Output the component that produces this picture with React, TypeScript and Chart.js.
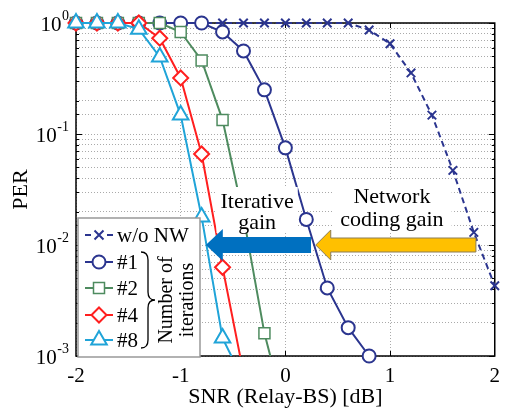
import { useEffect, useRef } from 'react';
import { Chart, registerables } from 'chart.js';
Chart.register(...registerables);

// ---------- data ----------
const snrDb = [-2, -1.8, -1.6, -1.4, -1.2, -1.0, -0.8, -0.6, -0.4, -0.2, 0, 0.2, 0.4, 0.6, 0.8, 1.0, 1.2, 1.4, 1.6, 1.8, 2.0];
const perWithoutNW = [1, 1, 1, 1, 1, 1, 1, 1, 1, 1, 1, 1, 1, 1, 0.865, 0.65, 0.355, 0.148, 0.047, 0.013, 0.0043];
const perIter1 = [1, 1, 1, 1, 1, 1, 1, 0.83, 0.56, 0.25, 0.075, 0.017, 0.0041, 0.0018, 0.001, null, null, null, null, null, null];
const perIter2 = [1, 1, 1, 1, 1, 0.83, 0.46, 0.134, 0.018, 0.0016, 0.0003, null, null, null, null, null, null, null, null, null, null];
const perIter4 = [1, 1, 1, 1, 0.73, 0.32, 0.066, 0.0063, 0.0007, null, null, null, null, null, null, null, null, null, null, null, null];
const perIter8 = [1, 1, 1, 0.88, 0.494, 0.148, 0.0179, 0.00145, 0.0006, null, null, null, null, null, null, null, null, null, null, null, null];
const seriesLabels = ['w/o NW', '#1', '#2', '#4', '#8'];
const yDecades = [0, -1, -2, -3];
const xTickValues = [-1, 0, 1];
const xTitle = 'SNR (Relay-BS) [dB]';
const yTitle = 'PER';
const iterGainText = ['Iterative', 'gain'];
const ncGainText = ['Network', 'coding gain'];
const braceText = ['Number of', 'iterations'];

// ---------- styles ----------
const FONT = '"Liberation Serif", "Times New Roman", serif';
const NAVY = '#2B358F';
const GREEN = '#4E8B5F';
const RED = '#FF1F1F';
const CYAN = '#20A4D8';
const BLUE_ARROW = '#0070C0';
const ORANGE = '#FFC000';

const toPoints = (vals: (number | null)[]) =>
  snrDb.map((x, i) => ({ x, y: vals[i] })).filter((p) => p.y !== null) as { x: number; y: number }[];

function drawMarker(ctx: CanvasRenderingContext2D, style: string, x: number, y: number, color: string) {
  ctx.save();
  ctx.strokeStyle = color;
  ctx.fillStyle = '#fff';
  ctx.lineWidth = 2;
  ctx.setLineDash([]);
  ctx.beginPath();
  if (style === 'cross') {
    const r = 4.5;
    ctx.moveTo(x - r, y - r); ctx.lineTo(x + r, y + r);
    ctx.moveTo(x + r, y - r); ctx.lineTo(x - r, y + r);
    ctx.stroke();
  } else if (style === 'circle') {
    ctx.arc(x, y, 6.5, 0, Math.PI * 2);
    ctx.fill(); ctx.stroke();
  } else if (style === 'rect') {
    ctx.lineWidth = 1.5;
    ctx.rect(x - 5.5, y - 5.5, 11, 11);
    ctx.fill(); ctx.stroke();
  } else if (style === 'diamond') {
    const r = 7.5;
    ctx.moveTo(x, y - r); ctx.lineTo(x + r, y); ctx.lineTo(x, y + r); ctx.lineTo(x - r, y); ctx.closePath();
    ctx.fill(); ctx.stroke();
  } else if (style === 'triangle') {
    const r = 9;
    ctx.moveTo(x, y - r); ctx.lineTo(x + 0.866 * r, y + 0.5 * r); ctx.lineTo(x - 0.866 * r, y + 0.5 * r); ctx.closePath();
    ctx.fill(); ctx.stroke();
  }
  ctx.restore();
}

function drawArrow(ctx: CanvasRenderingContext2D, tipX: number, tailX: number, y: number, headLen: number, headHalf: number, barHalf: number, fill: string, stroke?: string) {
  ctx.save();
  ctx.beginPath();
  ctx.moveTo(tipX, y);
  ctx.lineTo(tipX + headLen, y - headHalf);
  ctx.lineTo(tipX + headLen, y - barHalf);
  ctx.lineTo(tailX, y - barHalf);
  ctx.lineTo(tailX, y + barHalf);
  ctx.lineTo(tipX + headLen, y + barHalf);
  ctx.lineTo(tipX + headLen, y + headHalf);
  ctx.closePath();
  ctx.fillStyle = fill;
  ctx.fill();
  if (stroke) {
    ctx.strokeStyle = stroke;
    ctx.lineWidth = 1;
    ctx.stroke();
  }
  ctx.restore();
}

const customPlugin = {
  id: 'perCustom',
  beforeDatasetsDraw(chart: any) {
    const { ctx, chartArea: a, scales } = chart;
    const xs = scales.x, ys = scales.y;
    ctx.save();
    ctx.strokeStyle = '#000';
    ctx.lineWidth = 1.5;
    ctx.setLineDash([]);
    ctx.strokeRect(a.left, a.top, a.right - a.left, a.bottom - a.top);
    ctx.lineWidth = 1;
    ctx.beginPath();
    xTickValues.forEach((v) => {
      const px = Math.round(xs.getPixelForValue(v)) + 0.5;
      ctx.moveTo(px, a.bottom); ctx.lineTo(px, a.bottom - 5);
      ctx.moveTo(px, a.top); ctx.lineTo(px, a.top + 5);
    });
    ys.ticks.forEach((t: any) => {
      const v = t.value;
      const lg = Math.log10(v);
      const major = Math.abs(lg - Math.round(lg)) < 1e-6;
      const len = major ? 6 : 3;
      const py = Math.round(ys.getPixelForValue(v)) + 0.5;
      ctx.moveTo(a.left, py); ctx.lineTo(a.left + len, py);
      ctx.moveTo(a.right, py); ctx.lineTo(a.right - len, py);
    });
    ctx.stroke();
    ctx.restore();
  },
  afterDatasetsDraw(chart: any) {
    const { ctx, scales } = chart;
    const xs = scales.x, ys = scales.y;
    const y0 = ys.getPixelForValue(0.01);
    ctx.save();
    ctx.setLineDash([]);

    // text boxes
    ctx.font = `22px ${FONT}`;
    ctx.textAlign = 'center';
    ctx.textBaseline = 'middle';
    const cx1 = xs.getPixelForValue(-0.27);
    const w1 = Math.max(...iterGainText.map((s) => ctx.measureText(s).width));
    ctx.fillStyle = '#fff';
    ctx.fillRect(cx1 - w1 / 2 - 4, y0 - 58, w1 + 8, 46);
    ctx.fillStyle = '#000';
    ctx.fillText(iterGainText[0], cx1, y0 - 43);
    ctx.fillText(iterGainText[1], cx1, y0 - 22);

    const cx2 = xs.getPixelForValue(1.018);
    const w2 = Math.max(...ncGainText.map((s) => ctx.measureText(s).width));
    ctx.fillStyle = '#fff';
    ctx.fillRect(cx2 - w2 / 2 - 8, y0 - 65, w2 + 16, 52);
    ctx.fillStyle = '#000';
    ctx.fillText(ncGainText[0], cx2, y0 - 48);
    ctx.fillText(ncGainText[1], cx2, y0 - 25);

    // arrows
    drawArrow(ctx, xs.getPixelForValue(-0.76), xs.getPixelForValue(0.245), y0, 17, 16, 8, BLUE_ARROW);
    drawArrow(ctx, xs.getPixelForValue(0.29), xs.getPixelForValue(1.82), y0, 15, 15, 7, ORANGE, '#8B7D55');

    // legend box
    const lx = 78, ly = 218, lw = 122, lh = 139;
    ctx.fillStyle = '#fff';
    ctx.fillRect(lx, ly, lw, lh);
    ctx.strokeStyle = '#999';
    ctx.lineWidth = 1.5;
    ctx.strokeRect(lx, ly, lw, lh);

    const rows = [235, 262, 288, 315, 340];
    const colors = [NAVY, NAVY, GREEN, RED, CYAN];
    const markers = ['cross', 'circle', 'rect', 'diamond', 'triangle'];
    rows.forEach((ry, i) => {
      ctx.save();
      ctx.strokeStyle = colors[i];
      ctx.lineWidth = 2;
      ctx.beginPath();
      if (i === 0) {
        ctx.moveTo(85, ry); ctx.lineTo(91, ry);
        ctx.moveTo(107, ry); ctx.lineTo(113, ry);
      } else {
        ctx.moveTo(85, ry); ctx.lineTo(113, ry);
      }
      ctx.stroke();
      ctx.restore();
      drawMarker(ctx, markers[i], 99, ry, colors[i]);
      ctx.fillStyle = '#000';
      ctx.font = `21px ${FONT}`;
      ctx.textAlign = 'left';
      ctx.textBaseline = 'middle';
      ctx.fillText(seriesLabels[i], 117, ry + 1);
    });

    // brace
    ctx.strokeStyle = '#000';
    ctx.lineWidth = 1.3;
    ctx.beginPath();
    ctx.moveTo(141, 252);
    ctx.quadraticCurveTo(148, 252, 148, 260);
    ctx.lineTo(148, 292);
    ctx.quadraticCurveTo(148, 300, 155, 300);
    ctx.quadraticCurveTo(148, 300, 148, 308);
    ctx.lineTo(148, 340);
    ctx.quadraticCurveTo(148, 348, 141, 348);
    ctx.stroke();

    ctx.save();
    ctx.translate(167, 300);
    ctx.rotate(-Math.PI / 2);
    ctx.font = `20px ${FONT}`;
    ctx.textAlign = 'center';
    ctx.textBaseline = 'middle';
    ctx.fillStyle = '#000';
    ctx.fillText(braceText[0], 0, 0);
    ctx.fillText(braceText[1], 0, 21);
    ctx.restore();

    ctx.restore();
  },
  afterDraw(chart: any) {
    const { ctx, chartArea: a, scales } = chart;
    const ys = scales.y;
    ctx.save();
    ctx.fillStyle = '#000';
    yDecades.forEach((d) => {
      const py = ys.getPixelForValue(Math.pow(10, d));
      const exp = String(d).replace('-', '-');
      ctx.font = `14px ${FONT}`;
      const ew = ctx.measureText(exp).width;
      const right = 69;
      ctx.textAlign = 'right';
      ctx.textBaseline = 'middle';
      ctx.fillText(exp, right, py - 7);
      ctx.font = `21px ${FONT}`;
      ctx.fillText('10', right - ew - 0.5, py + 2);
    });
    ctx.font = `22px ${FONT}`;
    ctx.textAlign = 'center';
    ctx.textBaseline = 'middle';
    ctx.fillText(xTitle, (a.left + a.right) / 2, 397);
    ctx.save();
    ctx.translate(21, (a.top + a.bottom) / 2);
    ctx.rotate(-Math.PI / 2);
    ctx.fillText(yTitle, 0, 0);
    ctx.restore();
    ctx.restore();
  },
};

export default function App() {
  const ref = useRef<HTMLCanvasElement | null>(null);
  useEffect(() => {
    if (!ref.current) return;
    const clipLow = { left: 12, top: 14, right: 12, bottom: 0 };
    const clipFull = { left: 12, top: 14, right: 12, bottom: 12 };
    const mk = (label: string, vals: (number | null)[], color: string, pointStyle: string, radius: number, clip: any, dash: number[] = [], bw = 2) => ({
      label,
      data: toPoints(vals),
      borderColor: color,
      backgroundColor: '#fff',
      borderWidth: 2,
      borderDash: dash,
      pointStyle,
      pointRadius: radius,
      pointBorderWidth: bw,
      pointBorderColor: color,
      pointBackgroundColor: '#fff',
      tension: 0,
      clip,
    });
    const chart = new Chart(ref.current, {
      type: 'line',
      data: {
        datasets: [
          mk(seriesLabels[4], perIter8, CYAN, 'triangle', 9, clipLow),
          mk(seriesLabels[3], perIter4, RED, 'rectRot', 7.5, clipLow),
          mk(seriesLabels[2], perIter2, GREEN, 'rect', 7.8, clipLow, [], 1.5),
          mk(seriesLabels[1], perIter1, NAVY, 'circle', 6.5, clipFull),
          mk(seriesLabels[0], perWithoutNW, NAVY, 'crossRot', 6, clipFull, [6, 4]),
        ] as any,
      },
      options: {
        responsive: false,
        animation: false,
        devicePixelRatio: 1,
        layout: { padding: { top: 23, right: 6, left: 0, bottom: 0 } },
        plugins: { legend: { display: false }, tooltip: { enabled: false } },
        scales: {
          x: {
            type: 'linear',
            min: -2,
            max: 2,
            ticks: {
              stepSize: 1,
              padding: 8,
              color: '#000',
              font: { family: FONT, size: 21 },
              callback: (v: any) => String(v),
            },
            grid: { color: '#aaa', lineWidth: 1, drawTicks: false },
            border: { display: false, dash: [1, 2] },
            afterFit: (s: any) => { s.height = 54; },
          },
          y: {
            type: 'logarithmic',
            min: 0.001,
            max: 1,
            ticks: { display: false },
            grid: { color: '#aaa', lineWidth: 1, drawTicks: false },
            border: { display: false, dash: [1, 2] },
            afterFit: (s: any) => { s.width = 76; },
          },
        },
      },
      plugins: [customPlugin],
    } as any);
    return () => chart.destroy();
  }, []);
  return (
    <div style={{ position: 'absolute', left: 0, top: 0, width: 508, height: 410, background: '#fff' }}>
      <canvas ref={ref} width={508} height={410} style={{ display: 'block' }} />
    </div>
  );
}
